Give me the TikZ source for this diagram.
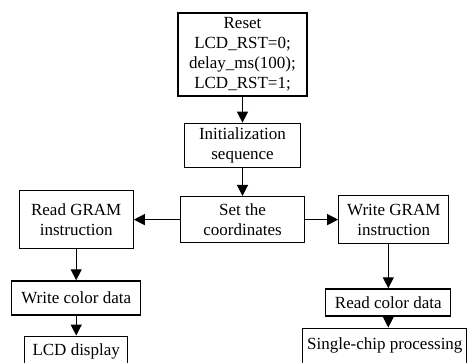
\documentclass[tikz,border=0pt]{standalone}
\usepackage{fontspec}
\setmainfont{Liberation Serif}
\usetikzlibrary{arrows.meta,positioning}
\tikzset{
  >=Triangle,
  every picture/.append style={line width=1.3pt},
}

\begin{document}
\begin{tikzpicture}[
  font=\fontsize{17}{20}\selectfont,
  node distance=26pt and 40pt,
  stepbox/.style={draw, rectangle, align=center, inner sep=0pt},
  flow/.style={-{Triangle[length=11pt,width=11pt]}},
]

\useasboundingbox (0,0) rectangle (468pt,362pt);

% Main column
\node[stepbox, minimum width=129pt, minimum height=83pt] (reset) at (242.5pt,307.5pt)
      {Reset\\LCD\_RST=0;\\delay\_ms(100);\\LCD\_RST=1;};
\node[stepbox, minimum width=116pt, minimum height=44pt, below=26pt of reset] (init)
      {Initialization\\sequence};
\node[stepbox, minimum width=124pt, minimum height=46pt, below=28pt of init] (coords)
      {Set the\\coordinates};

% Read branch (left)
\node[stepbox, minimum width=114pt, minimum height=58pt, left=46pt of coords] (readgram)
      {Read GRAM\\instruction};
\node[stepbox, minimum width=129pt, minimum height=34pt, below=31pt of readgram] (writecolor)
      {Write color data};
\node[stepbox, minimum width=103pt, minimum height=31pt, below=20pt of writecolor] (lcd)
      {LCD display};

% Write branch (right)
\node[stepbox, minimum width=110pt, minimum height=48pt, right=33pt of coords] (writegram)
      {Write GRAM\\instruction};
\node[stepbox, minimum width=125pt, minimum height=27pt, below=44pt of writegram, xshift=-5.5pt] (readcolor)
      {Read color data};
\node[stepbox, minimum width=164pt, minimum height=35pt, below=11pt of readcolor, xshift=-3.5pt] (chip)
      {Single-chip processing};

% Arrows
\draw[flow] (reset) -- (init);
\draw[flow] (init) -- (coords);
\draw[flow] (coords) -- (readgram);
\draw[flow] (coords) -- (writegram);
\draw[flow] (readgram) -- (writecolor);
\draw[flow] (writecolor) -- (lcd);
\draw[flow] (readcolor.north |- writegram.south) -- (readcolor.north);
\draw[flow] (readcolor.south) -- (readcolor.south |- chip.north);

\end{tikzpicture}
\end{document}
